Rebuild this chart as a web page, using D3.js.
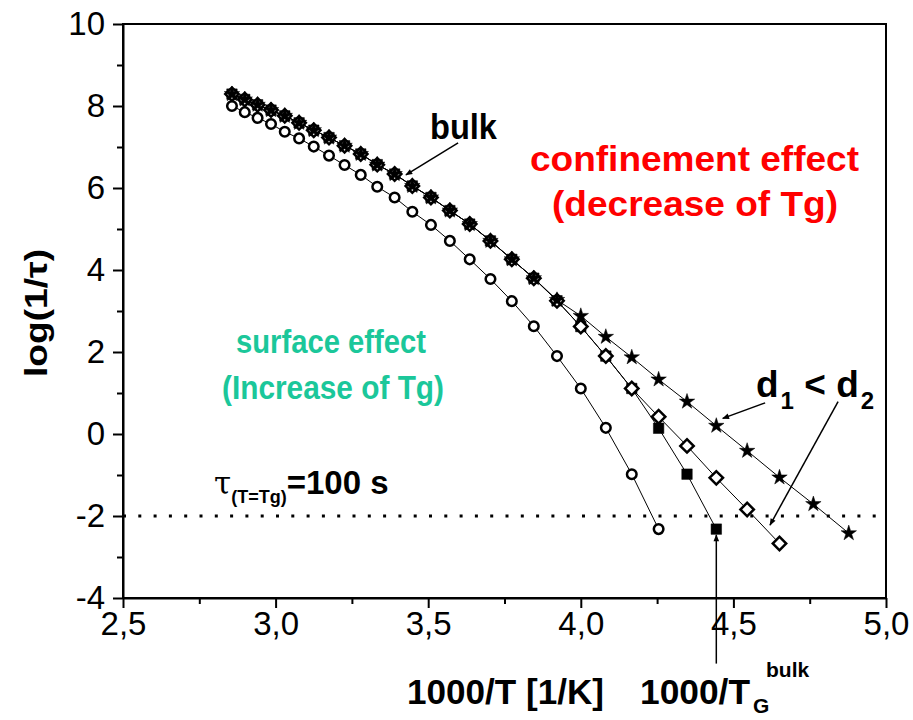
<!DOCTYPE html>
<html>
<head>
<meta charset="utf-8">
<script src="https://cdn.jsdelivr.net/npm/d3@7"></script>
<style>
  body { margin: 0; background: #fff; }
  svg text { font-family: "Liberation Sans", Arial, sans-serif; }
</style>
</head>
<body>
<div id="chart"></div>
<script>
// 1000/T values (1/K) shared by all series
var invT = [2.857, 2.899, 2.941, 2.985, 3.030, 3.077, 3.125, 3.175, 3.226, 3.279,
            3.333, 3.390, 3.448, 3.509, 3.571, 3.636, 3.704, 3.774, 3.846, 3.922,
            4.000, 4.082, 4.167, 4.255, 4.348, 4.444, 4.545, 4.651, 4.762, 4.878];

// open circles (surface effect)
var surfaceY = [8.00, 7.85, 7.71, 7.56, 7.37, 7.21, 7.01, 6.79, 6.56, 6.32,
                6.03, 5.77, 5.42, 5.10, 4.71, 4.26, 3.78, 3.24, 2.63, 1.90,
                1.11, 0.15, -0.98, -2.32];

// filled squares (bulk)
var bulkY = [8.29, 8.16, 8.03, 7.90, 7.76, 7.59, 7.41, 7.23, 7.03, 6.83,
             6.57, 6.34, 6.05, 5.77, 5.45, 5.12, 4.71, 4.26, 3.80, 3.25,
             2.62, 1.90, 1.11, 0.14, -0.98, -2.32];

// open diamonds (d2)
var d2Y = [8.29, 8.16, 8.03, 7.90, 7.76, 7.59, 7.41, 7.23, 7.03, 6.83,
           6.57, 6.34, 6.05, 5.77, 5.45, 5.12, 4.71, 4.26, 3.80, 3.25,
           2.62, 1.90, 1.11, 0.42, -0.29, -1.07, -1.84, -2.67];

// filled stars (d1)
var d1Y = [8.29, 8.16, 8.03, 7.90, 7.76, 7.59, 7.41, 7.23, 7.03, 6.83,
           6.57, 6.34, 6.05, 5.77, 5.45, 5.12, 4.71, 4.26, 3.80, 3.27,
           2.88, 2.37, 1.87, 1.33, 0.79, 0.20, -0.41, -1.06, -1.71, -2.42];

var xTicks = [2.5, 3.0, 3.5, 4.0, 4.5, 5.0];
var xMinor = [2.75, 3.25, 3.75, 4.25, 4.75];
var yTicks = [-4, -2, 0, 2, 4, 6, 8, 10];
var yMinor = [-3, -1, 1, 3, 5, 7, 9];

var tauG = -2;          // log(1/tau) at tau = 100 s
var invTgBulk = 4.444;  // 1000/Tg of bulk

function drawChart() {
    var w = 913, h = 720;
    var mLeft = 123, mRight = 886, mTop = 24, mBottom = 598;

    var svg = d3.select("#chart").append("svg")
        .attr("width", w)
        .attr("height", h);

    var x = d3.scaleLinear().domain([2.5, 5.0]).range([mLeft, mRight]);
    var y = d3.scaleLinear().domain([-4, 10]).range([mBottom, mTop]);

    function pts(ys) {
        return ys.map(function(v, i) { return [invT[i], v]; });
    }

    // arrow head
    svg.append("defs").append("marker")
        .attr("id", "arrow")
        .attr("viewBox", "0 0 10 10")
        .attr("refX", 9).attr("refY", 5)
        .attr("markerWidth", 9).attr("markerHeight", 7)
        .attr("markerUnits", "userSpaceOnUse")
        .attr("orient", "auto")
        .append("path")
        .attr("d", "M0,1 L10,5 L0,9 Z")
        .attr("fill", "#000");

    // frame
    svg.append("rect")
        .attr("x", mLeft).attr("y", mTop)
        .attr("width", mRight - mLeft).attr("height", mBottom - mTop)
        .attr("fill", "none").attr("stroke", "#000").attr("stroke-width", 2);

    // x axis
    var fmtX = function(d) { return d3.format(".1f")(d).replace(".", ","); };
    var gx = svg.append("g")
        .attr("transform", "translate(0," + mBottom + ")")
        .call(d3.axisBottom(x).tickValues(xTicks).tickSize(10).tickSizeOuter(0).tickFormat(fmtX));
    svg.append("g")
        .attr("transform", "translate(0," + mBottom + ")")
        .call(d3.axisBottom(x).tickValues(xMinor).tickSize(6).tickSizeOuter(0).tickFormat(""))
        .select(".domain").remove();

    // y axis
    var gy = svg.append("g")
        .attr("transform", "translate(" + mLeft + ",0)")
        .call(d3.axisLeft(y).tickValues(yTicks).tickSize(10).tickSizeOuter(0).tickFormat(d3.format("d")));
    svg.append("g")
        .attr("transform", "translate(" + mLeft + ",0)")
        .call(d3.axisLeft(y).tickValues(yMinor).tickSize(6).tickSizeOuter(0).tickFormat(""))
        .select(".domain").remove();

    svg.selectAll(".tick line").attr("stroke", "#000").attr("stroke-width", 2);
    svg.selectAll(".domain").attr("stroke", "#000").attr("stroke-width", 2);
    gx.selectAll(".tick text")
        .attr("font-size", 33).attr("fill", "#000")
        .attr("y", 14);
    gy.selectAll(".tick text")
        .attr("font-size", 33).attr("fill", "#000")
        .attr("x", -18).text(function(d) { return d < 0 ? "-" + Math.abs(d) : d; });

    // dotted line tau = 100 s
    svg.append("line")
        .attr("x1", x(2.5)).attr("x2", x(5.0))
        .attr("y1", y(tauG)).attr("y2", y(tauG))
        .attr("stroke", "#000").attr("stroke-width", 3)
        .attr("stroke-dasharray", "3,12.3");

    // connecting lines
    var line = d3.line().x(function(d) { return x(d[0]); }).y(function(d) { return y(d[1]); });
    [surfaceY, bulkY, d2Y, d1Y].forEach(function(s) {
        svg.append("path")
            .datum(pts(s))
            .attr("d", line)
            .attr("fill", "none")
            .attr("stroke", "#000")
            .attr("stroke-width", 1);
    });

    // markers
    function drawSymbols(data, type, size, fill, rot) {
        svg.append("g").selectAll("path")
            .data(data)
            .enter()
            .append("path")
            .attr("d", d3.symbol().type(type).size(size))
            .attr("transform", function(d) {
                return "translate(" + x(d[0]) + "," + y(d[1]) + ") rotate(" + rot + ")";
            })
            .attr("fill", fill)
            .attr("stroke", "#000")
            .attr("stroke-width", fill === "#fff" ? 2.5 : 0.5);
    }
    drawSymbols(pts(surfaceY), d3.symbolCircle, 72, "#fff", 0);
    drawSymbols(pts(bulkY), d3.symbolSquare, 110, "#000", 0);
    drawSymbols(pts(d2Y), d3.symbolSquare, 90, "#fff", 45);
    drawSymbols(pts(d1Y), d3.symbolStar, 74, "#000", 0);

    // annotation arrows
    function arrow(x1, y1, x2, y2) {
        svg.append("line")
            .attr("x1", x(x1)).attr("y1", y(y1))
            .attr("x2", x(x2)).attr("y2", y(y2))
            .attr("stroke", "#000").attr("stroke-width", 1.5)
            .attr("marker-end", "url(#arrow)");
    }
    arrow(3.598, 7.10, 3.427, 6.32);   // bulk
    arrow(4.604, 0.76, 4.465, 0.38);   // d1
    arrow(4.843, 0.79, 4.620, -2.22);  // d2
    arrow(invTgBulk, -5.6, invTgBulk, -2.46); // Tg bulk

    // texts
    function label(txt, px, py, size, color, len) {
        var t = svg.append("text")
            .attr("x", px).attr("y", py)
            .attr("font-size", size)
            .attr("font-weight", "bold")
            .attr("fill", color)
            .text(txt);
        if (len) t.attr("textLength", len).attr("lengthAdjust", "spacingAndGlyphs");
        return t;
    }

    label("bulk", 430, 139, 35, "#000", 67);
    label("confinement effect", 530, 171, 35, "#ff0000", 329);
    label("(decrease of Tg)", 552, 216, 35, "#ff0000", 286);
    label("surface effect", 236, 353, 34, "#1bc79a", 190);
    label("(Increase of Tg)", 222, 399, 34, "#1bc79a", 222);

    // d1 < d2
    var dt = svg.append("text").attr("x", 756).attr("y", 397)
        .attr("font-weight", "bold").attr("font-size", 37).attr("fill", "#000");
    dt.append("tspan").text("d");
    dt.append("tspan").attr("font-size", 24).attr("dy", 12).attr("dx", 2).text("1");
    dt.append("tspan").attr("dy", -12).attr("dx", 0).text(" < d");
    dt.append("tspan").attr("font-size", 24).attr("dy", 12).attr("dx", 2).text("2");

    // tau(T=Tg)=100 s
    var tt = svg.append("text").attr("x", 214).attr("y", 494)
        .attr("font-weight", "bold").attr("font-size", 31).attr("fill", "#000");
    tt.append("tspan").attr("font-family", "DejaVu Serif").attr("font-weight", "normal").text("τ");
    tt.append("tspan").attr("font-size", 18).attr("dy", 9).text("(T=Tg)");
    tt.append("tspan").attr("dy", -9).attr("font-size", 33).text("=100 s");

    // y title
    svg.append("text")
        .attr("transform", "translate(47,313) rotate(-90)")
        .attr("text-anchor", "middle")
        .attr("font-size", 32).attr("font-weight", "bold")
        .attr("textLength", 128).attr("lengthAdjust", "spacingAndGlyphs")
        .text("log(1/τ)");

    // x titles
    label("1000/T [1/K]", 407, 704, 35, "#000", 197);
    label("1000/T", 640, 704, 35, "#000", 110);
    label("G", 753, 713, 21, "#000");
    label("bulk", 766, 677, 21, "#000");
}

drawChart();
</script>
</body>
</html>
